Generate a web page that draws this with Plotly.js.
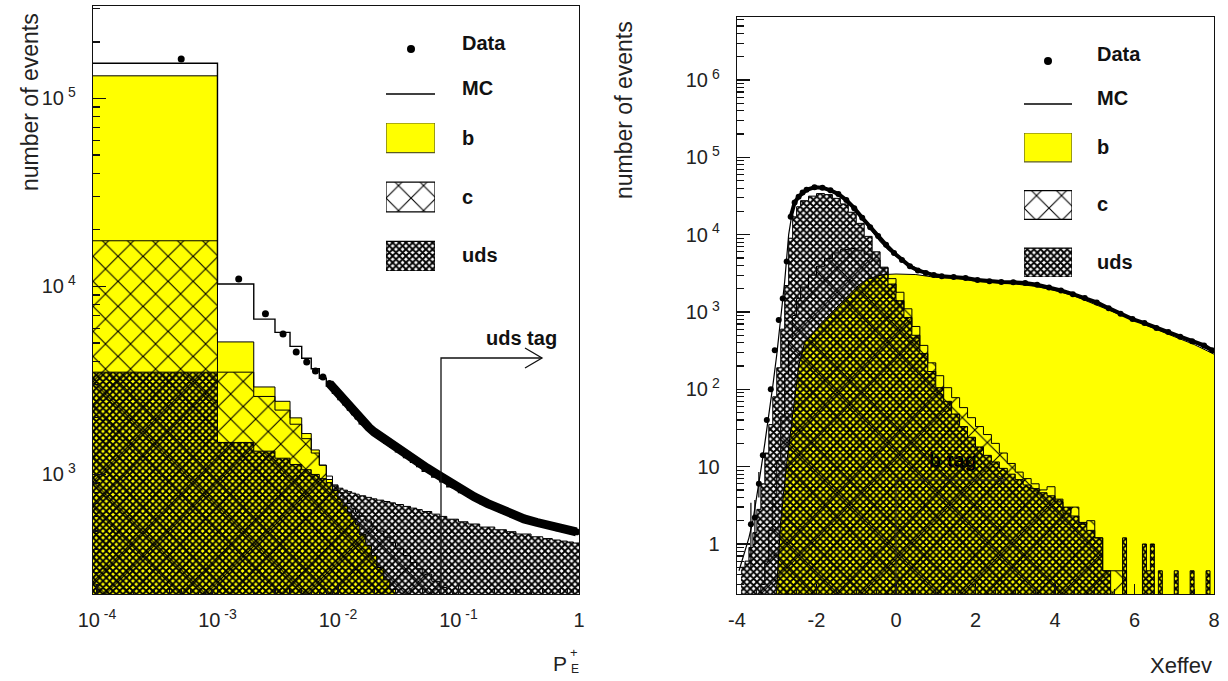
<!DOCTYPE html>
<html><head><meta charset="utf-8">
<script src="https://cdn.plot.ly/plotly-3.0.1.min.js"></script>
<style>html,body{margin:0;padding:0;background:#fff}#plot{width:1228px;height:681px}</style>
</head><body><div id="plot"></div>
<script>
// ---------------- LEFT PANEL (P_E^+) ----------------
// first bin is [0, 0.001]; its lower edge (0) is represented by a value below the axis range
const pEdges = [0.00001, 0.001, 0.002, 0.003, 0.004, 0.005, 0.006, 0.007, 0.008, 0.009, 0.010, 0.011, 0.012, 0.013, 0.014, 0.015, 0.017, 0.019, 0.021, 0.024, 0.027, 0.030, 0.035, 0.040, 0.045, 0.050, 0.060, 0.070, 0.080, 0.100, 0.120, 0.150, 0.200, 0.250, 0.300, 0.400, 0.500, 0.600, 0.700, 0.800, 0.900, 1.0];
const pB   = [132000, 5070, 2920, 2450, 2000, 1650, 1350, 1120, 940, 820, 740, 680, 630, 580, 540, 480, 420, 370, 320, 275, 245, 210, 180, 155, 135, 115, 92, 76, 58, 40, 30, 20, 13, 9, 6, 4, 3, 2, 2, 1, 1];
const pC   = [17500, 3500, 2600, 2200, 1850, 1550, 1300, 1120, 980, 880, 800, 750, 700, 660, 630, 600, 565, 530, 500, 465, 435, 405, 370, 340, 315, 295, 270, 250, 225, 195, 170, 145, 120, 105, 90, 75, 62, 55, 48, 44, 40];
const pUds = [3500, 1480, 1330, 1220, 1130, 1060, 1000, 950, 905, 870, 845, 825, 810, 795, 785, 770, 755, 742, 730, 718, 706, 692, 676, 662, 650, 635, 615, 598, 578, 560, 545, 525, 508, 496, 482, 466, 456, 448, 442, 437, 432];
const pMC  = [154000, 10300, 6700, 5700, 4800, 4150, 3650, 3250, 2950, 2700, 2500, 2350, 2200, 2080, 1980, 1860, 1750, 1650, 1560, 1470, 1400, 1320, 1230, 1160, 1100, 1040, 970, 915, 860, 800, 755, 700, 650, 615, 585, 555, 535, 518, 505, 495, 485];
const pDataX = [0.0005, 0.0015, 0.0025, 0.0035, 0.0045, 0.0055, 0.0065, 0.0075, 0.0085, 0.0095, 0.0105, 0.0115, 0.0125, 0.0135, 0.0145, 0.016, 0.018, 0.02, 0.0225, 0.0255, 0.0285, 0.0325, 0.0375, 0.0425, 0.0475, 0.055, 0.065, 0.075, 0.09, 0.11, 0.135, 0.175, 0.225, 0.275, 0.35, 0.45, 0.55, 0.65, 0.75, 0.85, 0.95];
const pDataY = [162000, 10960, 7150, 5590, 4480, 3970, 3550, 3300, 3050, 2800, 2600, 2430, 2280, 2150, 2040, 1900, 1780, 1680, 1590, 1510, 1440, 1360, 1280, 1210, 1150, 1080, 1010, 950, 880, 820, 760, 700, 648, 615, 580, 555, 535, 520, 510, 502, 495];
const pXTickVals = [1e-4, 1e-3, 1e-2, 1e-1, 1];
const pXTickText = ['10<sup> -4</sup>', '10<sup> -3</sup>', '10<sup> -2</sup>', '10<sup> -1</sup>', '1'];
const pYTickVals = [1e3, 1e4, 1e5];
const pYTickText = ['10<sup> 3</sup>', '10<sup> 4</sup>', '10<sup> 5</sup>'];

// ---------------- RIGHT PANEL (Xeffev) ----------------
const rEdges = [-3.9,-3.8,-3.7,-3.6,-3.5,-3.4,-3.3,-3.2,-3.1,-3.0,-2.9,-2.8,-2.7,-2.6,-2.5,-2.4,-2.2,-2.0,-1.8,-1.6,-1.4,-1.2,-1.0,-0.8,-0.6,-0.4,-0.2,0.0,0.2,0.4,0.6,0.8,1.0,1.2,1.4,1.6,1.8,2.0,2.2,2.4,2.6,2.8,3.0,3.2,3.4,3.6,3.8,4.0,4.2,4.4,4.6,4.8,5.0,5.2,5.4,5.7,5.8,6.2,6.3,6.4,6.5,6.6,6.7,7.0,7.1,7.4,7.5,7.8,7.9,8.0];
const rUds = [0.5,0.6,0.9,1.4,2.8,6,15,35,80,190,600,2200,9000,17000,23000,27500,
  31500,34000,33000,29500,25000,19500,14000,9500,6000,3800,2300,1400,850,500,290,170,105,70,48,33,24,18,14,11.5,9.5,8,6.8,5.8,5.2,4.6,4.2,3.8,3.0,2.3,1.9,1.5,1.2,0.45,0.1,
  1.2,0.1,1.0,0.45,1.0,0.1,0.45,0.1,0.45,0.1,0.45,0.1,0.45,0.1];
const rC = [0.1,0.1,0.1,0.1,0.1,0.3,0.6,1.5,4,12,45,160,420,900,1500,2100,
  3000,3900,4900,5800,6400,6600,6300,5600,4700,3700,2700,1800,1100,650,370,220,150,105,78,58,43,33,26,20,15,11,8.5,7,6,5,5.5,3.5,2.5,3,1.8,2,1.2,0.45,0.45,
  0.45,0.1,0.1,0.1,0.1,0.1,0.1,0.1,0.1,0.1,0.1,0.1,0.1,0.1];
const rBx = [-3.05,-2.9,-2.75,-2.6,-2.45,-2.3,-2.1,-1.9,-1.7,-1.5,-1.3,-1.1,-0.9,-0.7,-0.5,-0.3,0,0.5,1,1.5,2,2.5,3,3.5,4,4.5,5,5.5,6,6.5,7,7.5,8];
const rB  = [0.1,2,11,50,200,400,520,700,900,1150,1450,1850,2300,2650,2900,3050,3100,3050,2800,2750,2500,2400,2300,2150,1900,1600,1250,1000,780,610,480,380,285];
const rMCx = [-3.95,-3.8,-3.7,-3.6,-3.5,-3.4,-3.3,-3.2,-3.1,-3.0,-2.9,-2.8,-2.7,-2.6,-2.5,-2.4,-2.2,-2.0,-1.8,-1.6,-1.4,-1.2,-1.0,-0.8,-0.6,-0.4,-0.2,0.0,0.3,0.6,1.0,1.5,2.0,2.5,3.0,3.5,4.0,4.5,5.0,5.5,6.0,6.5,7.0,7.5,8.0];
const rMC  = [0.45,0.8,1.2,2,4,9,20,45,110,280,800,2500,10000,21000,28000,33000,38000,40000,39000,36000,31000,26000,20000,15000,11000,8200,6400,5300,4200,3500,3000,2800,2600,2450,2400,2250,1950,1650,1300,1020,800,640,510,400,300];
const rDataX = [-3.65,-3.55,-3.45,-3.35,-3.25,-3.15,-3.05,-2.95,-2.85,-2.75,-2.65,-2.55,-2.45,-2.35,-2.25,-2.05,-1.85,-1.65,-1.45,-1.25,-1.05,-0.85,-0.65,-0.45,-0.25,-0.05,0.15,0.35,0.55,0.75,0.95,1.15,1.45,1.75,2.05,2.35,2.65,2.95,3.25,3.55,3.85,4.15,4.45,4.75,5.05,5.35,5.65,5.95,6.25,6.55,6.85,7.15,7.45,7.75,7.95];
const rDataY = [1.8,2.2,6,14,40,100,320,785,1500,4500,17000,26000,31000,35000,38000,41000,40500,37500,33500,28000,22000,16500,12500,9600,7400,5800,4700,3900,3450,3200,3000,2900,2830,2750,2600,2500,2450,2420,2370,2250,2080,1900,1700,1520,1330,1120,950,810,720,620,550,480,420,370,320];
const rDataErrUp = [1.6, 1.5, 2.5];
const rDataErrDn = [1.34, 1.2, 2.0];
const rXTickVals = [-4,-2,0,2,4,6,8];
const rXTickText = ['-4','-2','0','2','4','6','8'];
const rYTickVals = [1,10,100,1e3,1e4,1e5,1e6];
const rYTickText = ['1','10','10<sup> 2</sup>','10<sup> 3</sup>','10<sup> 4</sup>','10<sup> 5</sup>','10<sup> 6</sup>'];

// legend entries
const legendLabels = ['Data','MC','b','c','uds'];

// ---------------- helpers ----------------
const W = 1228, H = 681;
const PX = x => x / W;
const PY = y => 1 - y / H;
function stepY(vals){ return vals.concat([vals[vals.length-1]]); }
function minorLog(lo, hi){ const out=[]; for(let e=lo;e<=hi;e++){ for(let d=2;d<=9;d++){ out.push(d*Math.pow(10,e)); } } return out; }

const FONT = 'Liberation Sans, Arial, Helvetica, sans-serif';
const YEL = '#ffff00';
const cPat = {shape:'x', size:17.7, solidity:0.12, fgcolor:'#000', bgcolor:'rgba(0,0,0,0)', fillmode:'replace'};
const uPat = {shape:'x', size:4.7, solidity:0.64, fgcolor:'#000', bgcolor:'rgba(0,0,0,0)', fillmode:'replace'};

const traces = [];
// left
traces.push({x:pEdges, y:stepY(pB), xaxis:'x', yaxis:'y', type:'scatter', mode:'lines', line:{shape:'hv', color:'#000', width:1}, fill:'tozeroy', fillcolor:YEL, hoverinfo:'skip'});
traces.push({x:pEdges, y:stepY(pC), xaxis:'x', yaxis:'y', type:'scatter', mode:'lines', line:{shape:'hv', color:'#000', width:1}, fill:'tozeroy', fillcolor:'rgba(0,0,0,0)', fillpattern:cPat, hoverinfo:'skip'});
traces.push({x:pEdges, y:stepY(pUds), xaxis:'x', yaxis:'y', type:'scatter', mode:'lines', line:{shape:'hv', color:'#000', width:1}, fill:'tozeroy', fillcolor:'rgba(0,0,0,0)', fillpattern:uPat, hoverinfo:'skip'});
traces.push({x:pEdges, y:stepY(pMC), xaxis:'x', yaxis:'y', type:'scatter', mode:'lines', line:{shape:'hv', color:'#000', width:1.4}, hoverinfo:'skip'});
traces.push({x:pDataX.slice(8), y:pDataY.slice(8), xaxis:'x', yaxis:'y', type:'scatter', mode:'lines', line:{color:'#000', width:9}, hoverinfo:'skip'});
traces.push({x:pDataX, y:pDataY, xaxis:'x', yaxis:'y', type:'scatter', mode:'markers', marker:{color:'#000', size:7}, hoverinfo:'skip'});
// right
traces.push({x:rBx, y:rB, xaxis:'x2', yaxis:'y2', type:'scatter', mode:'lines', line:{color:'#000', width:1}, fill:'tozeroy', fillcolor:YEL, hoverinfo:'skip'});
traces.push({x:rEdges, y:stepY(rC), xaxis:'x2', yaxis:'y2', type:'scatter', mode:'lines', line:{shape:'hv', color:'#000', width:1}, fill:'tozeroy', fillcolor:'rgba(0,0,0,0)', fillpattern:cPat, hoverinfo:'skip'});
traces.push({x:rEdges, y:stepY(rUds), xaxis:'x2', yaxis:'y2', type:'scatter', mode:'lines', line:{shape:'hv', color:'#000', width:1}, fill:'tozeroy', fillcolor:'rgba(0,0,0,0)', fillpattern:uPat, hoverinfo:'skip'});
traces.push({x:rMCx, y:rMC, xaxis:'x2', yaxis:'y2', type:'scatter', mode:'lines', line:{color:'#000', width:1.2}, hoverinfo:'skip'});
traces.push({x:rDataX.slice(10), y:rDataY.slice(10), xaxis:'x2', yaxis:'y2', type:'scatter', mode:'lines', line:{color:'#000', width:4}, hoverinfo:'skip'});
traces.push({x:rDataX, y:rDataY, xaxis:'x2', yaxis:'y2', type:'scatter', mode:'markers', marker:{color:'#000', size:6},
  error_y:{type:'data', symmetric:false, array:rDataErrUp, arrayminus:rDataErrDn, color:'#000', thickness:1.2, width:0}, hoverinfo:'skip'});

// legend swatches: one bar per swatch on hidden auxiliary axes
function swatch(xa, ya, slot, color, lineColor, pat){
  const m = {color:color, line:{color:lineColor, width:1.2}};
  if (pat) m.pattern = Object.assign({}, pat, {bgcolor:'#fff'});
  return {x:[1], y:[slot], base:[0], orientation:'h', width:0.5, type:'bar', xaxis:xa, yaxis:ya, hoverinfo:'skip', marker:m};
}
[['x3','y3'],['x4','y4']].forEach(([xa,ya]) => {
  traces.push(swatch(xa, ya, 0, YEL, '#5c5c20', null));
  traces.push(swatch(xa, ya, 1, '#fff', '#000', cPat));
  traces.push(swatch(xa, ya, 2, '#fff', '#000', uPat));
});

const tickFont = {family:FONT, size:20, color:'#222'};
const axBase = {showline:true, mirror:true, linecolor:'#111', linewidth:1.3, showgrid:false, zeroline:false, ticks:'inside', tickcolor:'#111', tickwidth:1.2, tickfont:tickFont, tickmode:'array'};

const layout = {
  width:W, height:H, margin:{l:0,r:0,t:0,b:0}, paper_bgcolor:'#fff', plot_bgcolor:'#fff', showlegend:false, barmode:'overlay',
  xaxis: Object.assign({}, axBase, {type:'log', domain:[PX(93), PX(579)], range:[-4.033, 0], anchor:'y', tickvals:pXTickVals, ticktext:pXTickText, ticklen:10, ticklabelstandoff:8,
    minor:{ticks:'inside', ticklen:5, tickcolor:'#111', tickmode:'array', tickvals:minorLog(-4,-1)}}),
  yaxis: Object.assign({}, axBase, {type:'log', domain:[PY(594), PY(6)], range:[2.364, 5.492], anchor:'x', tickvals:pYTickVals, ticktext:pYTickText, ticklen:13, ticklabelstandoff:12,
    minor:{ticks:'inside', ticklen:7, tickcolor:'#111', tickmode:'array', tickvals:minorLog(2,5)}}),
  xaxis2: Object.assign({}, axBase, {type:'linear', domain:[PX(737), PX(1214)], range:[-4, 8], anchor:'y2', tickvals:rXTickVals, ticktext:rXTickText, ticklen:10, ticklabelstandoff:8,
    minor:{ticks:'inside', ticklen:5, tickcolor:'#111', dtick:0.5}}),
  yaxis2: Object.assign({}, axBase, {type:'log', domain:[PY(594), PY(17)], range:[-0.647, 6.815], anchor:'x2', tickvals:rYTickVals, ticktext:rYTickText, ticklen:13, ticklabelstandoff:12,
    minor:{ticks:'inside', ticklen:7, tickcolor:'#111', tickmode:'array', tickvals:minorLog(-1,6)}}),
  xaxis3: {domain:[PX(386), PX(435)], range:[0,1], visible:false, anchor:'y3', fixedrange:true},
  yaxis3: {domain:[PY(271), PY(123)], range:[2.25,-0.25], visible:false, anchor:'x3', fixedrange:true},
  xaxis4: {domain:[PX(1024), PX(1072)], range:[0,1], visible:false, anchor:'y4', fixedrange:true},
  yaxis4: {domain:[PY(277), PY(133)], range:[2.25,-0.25], visible:false, anchor:'x4', fixedrange:true},
  shapes: [
    // uds tag
    {type:'path', xref:'paper', yref:'paper', path:`M ${PX(441)},${PY(594)} L ${PX(441)},${PY(358)} L ${PX(542)},${PY(358)}`, line:{color:'#111', width:1.3}},
    {type:'path', xref:'paper', yref:'paper', path:`M ${PX(525)},${PY(348)} L ${PX(542)},${PY(358)} L ${PX(525)},${PY(368)}`, line:{color:'#111', width:1.3}},
    // b tag
    {type:'path', xref:'paper', yref:'paper', path:`M ${PX(896)},${PY(594)} L ${PX(896)},${PY(480)} L ${PX(1005)},${PY(480)}`, line:{color:'#222', width:1}},
    {type:'path', xref:'paper', yref:'paper', path:`M ${PX(997)},${PY(475)} L ${PX(1005)},${PY(480)} L ${PX(997)},${PY(485)}`, line:{color:'#222', width:1}},
    // legend markers
    {type:'circle', xref:'paper', yref:'paper', x0:PX(407), x1:PX(415), y0:PY(53), y1:PY(45), fillcolor:'#000', line:{width:0}},
    {type:'line', xref:'paper', yref:'paper', x0:PX(386), x1:PX(435), y0:PY(94), y1:PY(94), line:{color:'#000', width:1.3}},
    {type:'circle', xref:'paper', yref:'paper', x0:PX(1044), x1:PX(1052), y0:PY(65), y1:PY(57), fillcolor:'#000', line:{width:0}},
    {type:'line', xref:'paper', yref:'paper', x0:PX(1024), x1:PX(1072), y0:PY(104), y1:PY(104), line:{color:'#000', width:1.3}}
  ],
  annotations: []
};

const ann = (text, x, y, opts) => Object.assign({text, x:PX(x), y:PY(y), xref:'paper', yref:'paper', showarrow:false, xanchor:'left', yanchor:'middle',
  font:{family:FONT, size:20, color:'#111'}}, opts||{});
const legY_L = [43, 88, 138, 197, 255];
const legY_R = [54, 98, 147, 204, 262];
legendLabels.forEach((t,i) => {
  layout.annotations.push(ann('<b>'+t+'</b>', 460, legY_L[i]));
  layout.annotations.push(ann('<b>'+t+'</b>', 1095, legY_R[i]));
});
layout.annotations.push(ann('<b>uds tag</b>', 521, 338, {xanchor:'center'}));
layout.annotations.push(ann('<b>b tag</b>', 953, 460, {xanchor:'center', font:{family:FONT, size:20, color:'#000'}}));
layout.annotations.push(ann('number of events', 30, 102, {xanchor:'center', textangle:-90, font:{family:FONT, size:23, color:'#222'}}));
layout.annotations.push(ann('number of events', 624, 110, {xanchor:'center', textangle:-90, font:{family:FONT, size:23, color:'#222'}}));
layout.annotations.push(ann('Xeffev', 1214, 665, {xanchor:'right', font:{family:FONT, size:22, color:'#222'}}));
layout.annotations.push(ann('P', 560, 663, {xanchor:'center', font:{family:FONT, size:21, color:'#222'}}));
layout.annotations.push(ann('+', 574, 652, {xanchor:'center', font:{family:FONT, size:13, color:'#222'}}));
layout.annotations.push(ann('E', 575, 669, {xanchor:'center', font:{family:FONT, size:12, color:'#222'}}));

Plotly.newPlot('plot', traces, layout, {staticPlot:true, displayModeBar:false});
</script>
</body></html>
